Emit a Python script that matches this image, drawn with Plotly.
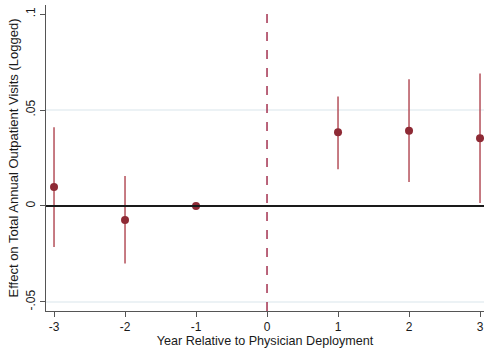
import plotly.graph_objects as go

# Event-study estimates by year relative to deployment
years = [-3, -2, -1, 1, 2, 3]
coef = [0.0099, -0.0073, 0.0, 0.0384, 0.0392, 0.0353]
ci_low = [-0.0213, -0.0300, 0.0, 0.0192, 0.0125, 0.0016]
ci_high = [0.0410, 0.0156, 0.0, 0.0571, 0.0660, 0.0690]

x_ticks = [-3, -2, -1, 0, 1, 2, 3]
y_ticks = [-0.05, 0, 0.05, 0.1]
y_tick_text = ["-.05", "0", ".05", ".1"]

marker_color = "#8e2a35"
ci_color = "#b4505a"

fig = go.Figure()

# light horizontal gridlines
for gy in [-0.05, 0.05]:
    fig.add_shape(type="line", xref="paper", x0=0, x1=1, yref="y", y0=gy, y1=gy,
                  line=dict(color="#e6eef2", width=1.5), layer="below")

# zero reference line
fig.add_shape(type="line", xref="paper", x0=0, x1=1, yref="y", y0=0, y1=0,
              line=dict(color="#1a1a1a", width=2))

# deployment year marker
fig.add_shape(type="line", xref="x", x0=0, x1=0, yref="paper", y0=0, y1=1,
              line=dict(color="#a3324f", width=1.5, dash="dash"))

# confidence intervals
for x, lo, hi in zip(years, ci_low, ci_high):
    if hi > lo:
        fig.add_trace(go.Scatter(x=[x, x], y=[lo, hi], mode="lines",
                                 line=dict(color=ci_color, width=1.5),
                                 showlegend=False, hoverinfo="skip"))

# point estimates
fig.add_trace(go.Scatter(x=years, y=coef, mode="markers",
                         marker=dict(color=marker_color, size=8),
                         showlegend=False))

family = "Liberation Sans, Arial, sans-serif"
font = dict(family=family, size=12, color="#1a1a1a")

fig.update_layout(
    width=484, height=354,
    margin=dict(l=46, r=0, t=5, b=43),
    paper_bgcolor="white", plot_bgcolor="white",
    font=font,
    xaxis=dict(range=[-3.113, 3.056], tickvals=x_ticks,
               ticktext=[str(v) for v in x_ticks],
               showgrid=False, zeroline=False,
               showline=True, linecolor="#555555", linewidth=1,
               ticks="outside", ticklen=5, tickcolor="#555555",
               title=dict(text="Year Relative to Physician Deployment", standoff=2,
                          font=dict(family=family, size=12.6, color="#1a1a1a"))),
    yaxis=dict(range=[-0.0547, 0.1047], tickvals=y_ticks, ticktext=y_tick_text,
               tickangle=-90, showgrid=False, zeroline=False,
               showline=True, linecolor="#555555", linewidth=1,
               ticks="outside", ticklen=5, tickcolor="#555555",
               title=dict(text="Effect on Total Annual Outpatient Visits (Logged)",
                          standoff=2,
                          font=dict(family=family, size=13, color="#1a1a1a"))),
)

fig.write_html("out.html")
